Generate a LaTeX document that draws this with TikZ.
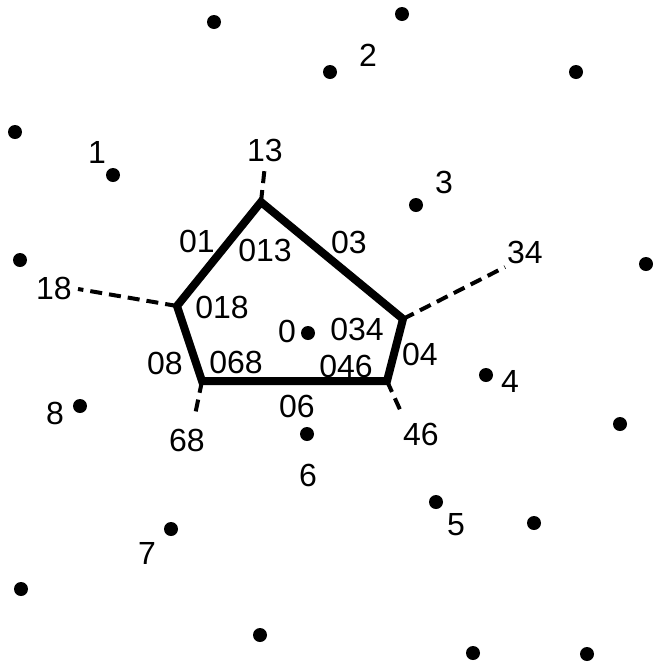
\documentclass[tikz,border=0pt]{standalone}
\usepackage{fontspec}
\setmainfont{Liberation Sans}
\begin{document}
\begin{tikzpicture}[x=0.5pt,y=-0.5pt,
  pt/.style={circle,fill=black,inner sep=0pt,minimum size=7pt},
  lbl/.style={inner sep=0pt,font=\fontsize{16}{19}\selectfont},
  edge/.style={line width=4pt,line join=miter},
  ext/.style={line width=2pt,dash pattern=on 6pt off 3.5pt}]
\useasboundingbox (0,0) rectangle (653,665);
% sites
\node[pt] (a1) at (214,22) {};
\node[pt] (a2) at (402,14) {};
\node[pt] (p2) at (330,72) {};
\node[pt] (a3) at (576,72) {};
\node[pt] (a4) at (15,132) {};
\node[pt] (p1) at (113,175) {};
\node[pt] (p3) at (416,205) {};
\node[pt] (a5) at (20,260) {};
\node[pt] (a6) at (646,264) {};
\node[pt] (p0) at (308,333) {};
\node[pt] (p4) at (486,375) {};
\node[pt] (p8) at (80,406) {};
\node[pt] (a7) at (620,424) {};
\node[pt] (p6) at (307,434) {};
\node[pt] (p5) at (436,502) {};
\node[pt] (a8) at (534,523) {};
\node[pt] (p7) at (171,529) {};
\node[pt] (a9) at (21,589) {};
\node[pt] (a10) at (260,635) {};
\node[pt] (a11) at (473,653) {};
\node[pt] (a12) at (587,654) {};
% site labels
\node[lbl] (l1) at (97,152) {1};
\node[lbl] (l2) at (368,55) {2};
\node[lbl] (l3) at (444,182) {3};
\node[lbl] (l0) at (287,331) {0};
\node[lbl] (l4) at (510,381) {4};
\node[lbl] (l8) at (55,413) {8};
\node[lbl] (l6) at (308,475) {6};
\node[lbl] (l5) at (456,525) {5};
\node[lbl] (l7) at (147,553) {7};
% cell vertices
\coordinate (v013) at (261,202);
\coordinate (v034) at (403,319);
\coordinate (v046) at (387,381);
\coordinate (v068) at (202,381);
\coordinate (v018) at (177,306);
% outer ends
\coordinate (e13) at (265,165);
\coordinate (e18) at (78,289);
\coordinate (e34) at (505,267);
\coordinate (e68) at (195,415);
\coordinate (e46) at (402,414);
\draw[ext] (v013) -- (e13);
\draw[ext] (v018) -- (e18);
\draw[ext] (v034) -- (e34);
\draw[ext] (v068) -- (e68);
\draw[ext] (v046) -- (e46);
\draw[edge] (v013) -- (v034) -- (v046) -- (v068) -- (v018) -- cycle;
% labels
\node[lbl] (t13) at (265,150) {13};
\node[lbl] (t18) at (54,288) {18};
\node[lbl] (t34) at (525,252) {34};
\node[lbl] (t68) at (187,440) {68};
\node[lbl] (t46) at (421,434) {46};
\node[lbl] (t01) at (197,241) {01};
\node[lbl] (t013) at (265,250) {013};
\node[lbl] (t03) at (349,242) {03};
\node[lbl] (t018) at (222,307) {018};
\node[lbl] (t034) at (357,329) {034};
\node[lbl] (t04) at (420,354) {04};
\node[lbl] (t08) at (165,363) {08};
\node[lbl] (t068) at (236,362) {068};
\node[lbl] (t046) at (346,366) {046};
\node[lbl] (t06) at (297,406) {06};
\end{tikzpicture}
\end{document}
